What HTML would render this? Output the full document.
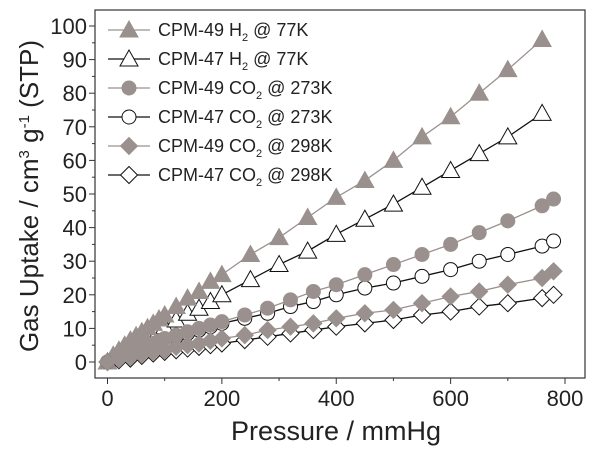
<!DOCTYPE html>
<html><head><meta charset="utf-8"><style>
body{margin:0;background:#fff}
svg{display:block;font-family:"Liberation Sans",sans-serif}
</style></head><body>
<svg id="chart" width="600" height="450">
<g id="axes"></g><g id="series"></g><g id="legend"></g>
<text x="336" y="440" text-anchor="middle" font-size="27" fill="#222">Pressure / mmHg</text>
<text transform="translate(38,196) rotate(-90)" text-anchor="middle" font-size="26" fill="#222">Gas Uptake / cm<tspan dy="-9" font-size="15">3</tspan><tspan dy="9"> g</tspan><tspan dy="-9" font-size="15">-1</tspan><tspan dy="9"> (STP)</tspan></text>
</svg>
<script>
const xTicks=[0,200,400,600,800];
const yTicks=[0,10,20,30,40,50,60,70,80,90,100];
const h2x49=[0,10,20,30,40,50,60,70,80,90,100,120,140,160,180,200,250,300,350,400,450,500,550,600,650,700,760];
const h2y49=[0,2,3.5,5,6.5,7.8,9,10.2,11.5,12.8,14,16.5,19,21,24,26,32,37,43,49,54,60,67,73,80,87,96];
const h2x47=[0,10,20,30,40,50,60,70,80,90,100,120,140,160,180,200,250,300,350,400,450,500,550,600,650,700,760];
const h2y47=[0,1.3,2.5,3.5,4.5,5.5,6.5,7.5,8.5,9.5,10.5,12.5,14.5,16,18,20,24.5,29,33,38,42.5,47,52,57,62,67,74];
const c273x49=[0,10,20,30,40,50,60,70,80,90,100,120,140,160,180,200,240,280,320,360,400,450,500,550,600,650,700,760,780];
const c273y49=[0,0.8,1.5,2.2,3,3.8,4.5,5,5.5,6.2,7,8,9,10,11,12,14,16,18.5,21,23,26,29,32,35,38.5,42,46.5,48.5];
const c273x47=[0,20,40,60,80,100,120,140,160,180,200,240,280,320,360,400,450,500,550,600,650,700,760,780];
const c273y47=[0,1.3,2.5,3.8,5,6.2,7.5,8.5,9.5,10.5,11.5,13,14.5,16.5,18,20,22,23.5,25.5,27.5,30,32,34.5,36];
const c298x49=[0,20,40,60,80,100,120,140,160,180,200,240,280,320,360,400,450,500,550,600,650,700,760,780];
const c298y49=[0,0.8,1.5,2.3,3,3.5,4.5,5,5.5,6.3,7,8,9.5,10.5,11.5,13,14.5,15.5,17.5,19.5,21,23,25,27];
const c298x47=[0,20,40,60,80,100,120,140,160,180,200,240,280,320,360,400,450,500,550,600,650,700,760,780];
const c298y47=[0,0.5,1,1.8,2.5,3,3.5,4,4.5,5,5.5,6.5,7.5,8.5,9.5,10.5,11.5,12.5,14,15,16.5,17.5,19,20];
const legendLabels=[["CPM-49 H","2"," @ 77K"],["CPM-47 H","2"," @ 77K"],["CPM-49 CO","2"," @ 273K"],["CPM-47 CO","2"," @ 273K"],["CPM-49 CO","2"," @ 298K"],["CPM-47 CO","2"," @ 298K"]];

const NS="http://www.w3.org/2000/svg";
const X0=107.5,X1=565,Y0=362,Y1=26;
const sx=v=>X0+(X1-X0)*v/800, sy=v=>Y0+(Y1-Y0)*v/100;
function mk(t,a,p){const e=document.createElementNS(NS,t);for(const k in a)e.setAttribute(k,a[k]);p.appendChild(e);return e;}
const ax=document.getElementById('axes');
const frame=mk('rect',{x:95,y:10,width:490,height:368,fill:'none',stroke:'#333','stroke-width':1.2},ax);


xTicks.forEach(v=>{mk('line',{x1:sx(v),x2:sx(v),y1:378,y2:384,stroke:'#333'},ax);
 const t=mk('text',{x:sx(v),y:406,'text-anchor':'middle','font-size':22,fill:'#222'},ax);t.textContent=v;
 
 });
for(let v=100;v<800;v+=200)mk('line',{x1:sx(v),x2:sx(v),y1:378,y2:381,stroke:'#333'},ax);
yTicks.forEach(v=>{mk('line',{x1:89,x2:95,y1:sy(v),y2:sy(v),stroke:'#333'},ax);
 const t=mk('text',{x:87,y:sy(v)+8,'text-anchor':'end','font-size':22,fill:'#222'},ax);t.textContent=v;
 
 });
for(let v=5;v<100;v+=10)mk('line',{x1:92,x2:95,y1:sy(v),y2:sy(v),stroke:'#333'},ax);

const G='#9a918e',K='#111';
function marker(p,shape,cx,cy,fill,stroke){
 if(shape==='tri')return mk('polygon',{points:`${cx},${cy-9} ${cx-9},${cy+7} ${cx+9},${cy+7}`,fill,stroke,'stroke-width':1},p);
 if(shape==='circ')return mk('circle',{cx,cy,r:7,fill,stroke,'stroke-width':1},p);
 return mk('polygon',{points:`${cx},${cy-8.5} ${cx+8.5},${cy} ${cx},${cy+8.5} ${cx-8.5},${cy}`,fill,stroke,'stroke-width':1},p);
}
const series=[
 [h2x47,h2y47,'tri','#fff',K,K,'cpm47-h2-77k'],
 [h2x49,h2y49,'tri',G,G,G,'cpm49-h2-77k'],
 [c273x47,c273y47,'circ','#fff',K,K,'cpm47-co2-273k'],
 [c273x49,c273y49,'circ',G,G,G,'cpm49-co2-273k'],
 [c298x47,c298y47,'dia','#fff',K,K,'cpm47-co2-298k'],
 [c298x49,c298y49,'dia',G,G,G,'cpm49-co2-298k']];
const sg=document.getElementById('series');
series.forEach(s=>{const g=mk('g',{},sg);
 
 
 mk('polyline',{points:s[0].map((x,i)=>sx(x)+','+sy(s[1][i])).join(' '),fill:'none',stroke:s[5],'stroke-width':1.3},g);
 s[0].forEach((x,i)=>{const m=marker(g,s[2],sx(x),sy(s[1][i]),s[3],s[4]);
  
  });
});
const lg=document.getElementById('legend');
const lstyle=[['tri',G,G,G],['tri','#fff',K,K],['circ',G,G,G],['circ','#fff',K,K],['dia',G,G,G],['dia','#fff',K,K]];
legendLabels.forEach((l,i)=>{const y=30+i*29;const g=mk('g',{},lg);
 
 
 const st=lstyle[i];
 mk('line',{x1:108,x2:150,y1:y,y2:y,stroke:st[3],'stroke-width':1.3},g);
 marker(g,st[0],129,y,st[1],st[2]);
 const t=mk('text',{x:158,y:y+6,'font-size':18,fill:'#222'},g);
 t.innerHTML=l[0]+'<tspan dy="5" font-size="11">'+l[1]+'</tspan><tspan dy="-5">'+l[2]+'</tspan>';
});
</script>
</body></html>
